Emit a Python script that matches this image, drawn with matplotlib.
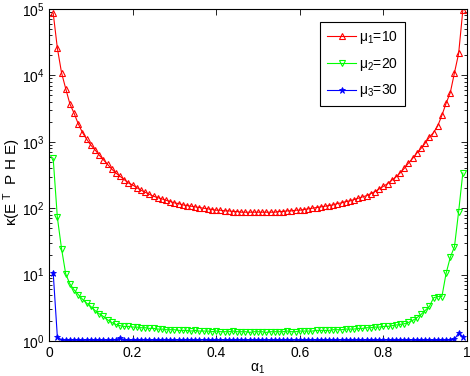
import numpy as np
import matplotlib
matplotlib.use("Agg")
import matplotlib.pyplot as plt

plt.rcParams["font.family"] = ["Liberation Sans", "DejaVu Sans"]
plt.rcParams["mathtext.default"] = "regular"

# alpha_1 grid
alpha = np.round(np.arange(1, 100) / 100, 2)

# log10 of kappa
red_log = [
    4.94, 4.41, 4.04, 3.80, 3.57, 3.43, 3.27, 3.14, 3.04, 2.95,
    2.88, 2.80, 2.73, 2.66, 2.59, 2.53, 2.48, 2.43, 2.38, 2.35,
    2.31, 2.27, 2.24, 2.21, 2.18, 2.16, 2.14, 2.12, 2.10, 2.08,
    2.07, 2.05, 2.04, 2.03, 2.02, 2.01, 2.00, 1.99, 1.98, 1.97,
    1.97, 1.96, 1.96, 1.95, 1.95, 1.94, 1.94, 1.94, 1.94, 1.94,
    1.94, 1.94, 1.94, 1.94, 1.95, 1.95, 1.96, 1.96, 1.97, 1.97,
    1.98, 1.99, 2.00, 2.01, 2.02, 2.03, 2.04, 2.05, 2.07, 2.08,
    2.10, 2.11, 2.13, 2.15, 2.17, 2.19, 2.22, 2.25, 2.29, 2.33,
    2.37, 2.42, 2.47, 2.53, 2.60, 2.68, 2.75, 2.83, 2.90, 2.98,
    3.07, 3.14, 3.24, 3.40, 3.58, 3.74, 4.04, 4.33, 4.98,
]

green_log = [
    2.75, 1.86, 1.39, 1.01, 0.86, 0.77, 0.70, 0.63, 0.57, 0.52,
    0.46, 0.41, 0.37, 0.32, 0.28, 0.25, 0.23, 0.22, 0.22, 0.21,
    0.21, 0.20, 0.20, 0.19, 0.19, 0.18, 0.18, 0.17, 0.17, 0.17,
    0.16, 0.16, 0.16, 0.15, 0.16, 0.15, 0.15, 0.15, 0.14, 0.15,
    0.14, 0.14, 0.14, 0.15, 0.14, 0.14, 0.14, 0.13, 0.14, 0.14,
    0.14, 0.13, 0.14, 0.14, 0.14, 0.14, 0.15, 0.14, 0.14, 0.15,
    0.15, 0.15, 0.15, 0.16, 0.16, 0.16, 0.16, 0.17, 0.17, 0.17,
    0.18, 0.18, 0.18, 0.19, 0.19, 0.20, 0.20, 0.21, 0.21, 0.22,
    0.22, 0.23, 0.24, 0.25, 0.26, 0.28, 0.31, 0.35, 0.40, 0.46,
    0.52, 0.65, 0.67, 0.67, 1.02, 1.26, 1.42, 1.95, 2.53,
]

blue_vals = [
    10.7, 1.15, 1.04, 1.03, 1.02, 1.04, 1.03, 1.02, 1.03, 1.04,
    1.02, 1.03, 1.03, 1.02, 1.04, 1.05, 1.10, 1.04, 1.02, 1.03,
    1.02, 1.03, 1.04, 1.02, 1.03, 1.02, 1.03, 1.04, 1.02, 1.03,
    1.03, 1.02, 1.04, 1.03, 1.02, 1.03, 1.05, 1.03, 1.02, 1.03,
    1.04, 1.02, 1.03, 1.02, 1.03, 1.04, 1.02, 1.03, 1.03, 1.02,
    1.03, 1.04, 1.02, 1.03, 1.02, 1.03, 1.03, 1.02, 1.04, 1.03,
    1.02, 1.03, 1.04, 1.02, 1.03, 1.02, 1.03, 1.03, 1.02, 1.04,
    1.03, 1.02, 1.03, 1.04, 1.02, 1.03, 1.02, 1.03, 1.03, 1.02,
    1.04, 1.03, 1.02, 1.03, 1.03, 1.02, 1.04, 1.03, 1.02, 1.03,
    1.03, 1.02, 1.03, 1.04, 1.03, 1.05, 1.06, 1.32, 1.15,
]

labels = [r"μ$_1$=10", r"μ$_2$=20", r"μ$_3$=30"]

red = 10 ** np.array(red_log)
green = 10 ** np.array(green_log)
blue = np.array(blue_vals)

fig = plt.figure(figsize=(4.7, 3.76), dpi=100)
ax = fig.add_axes([49 / 470, 1 - 341 / 376, 418 / 470, 332 / 376])

ax.semilogy(alpha, red, color="#ff0000", marker="^", ms=5, mfc="none",
            mew=0.8, lw=0.8, label=labels[0])
ax.semilogy(alpha, green, color="#00ff00", marker="v", ms=5, mfc="none",
            mew=0.8, lw=0.8, label=labels[1])
ax.semilogy(alpha, blue, color="#0000ff", marker="*", ms=5,
            mew=0.6, lw=0.8, label=labels[2])

ax.set_xlim(0, 1)
ax.set_ylim(1, 1e5)
ax.set_xticks([0, 0.2, 0.4, 0.6, 0.8, 1])
ax.set_xticklabels(["0", "0.2", "0.4", "0.6", "0.8", "1"])
ax.tick_params(which="both", direction="in", top=True, right=True,
               labelsize=10, width=0.6)
ax.tick_params(which="major", length=4)
ax.tick_params(which="minor", length=2)
for s in ax.spines.values():
    s.set_linewidth(0.8)

ax.set_xlabel(r"α$_1$", fontsize=10, labelpad=1)
ax.set_ylabel(r"κ(E$^{\ T}$  P H E)", fontsize=11)
ax.yaxis.set_label_coords(-0.062, 0.48)

leg = ax.legend(loc="upper right", fontsize=10, fancybox=False,
                edgecolor="black", framealpha=1, handlelength=2.1,
                borderpad=0.5, labelspacing=0.7, handletextpad=0.2,
                borderaxespad=0)
leg.get_frame().set_linewidth(0.8)
leg.set_bbox_to_anchor((405 / 470, 1 - 22 / 376), transform=fig.transFigure)

fig.savefig("out.png", dpi=100)
